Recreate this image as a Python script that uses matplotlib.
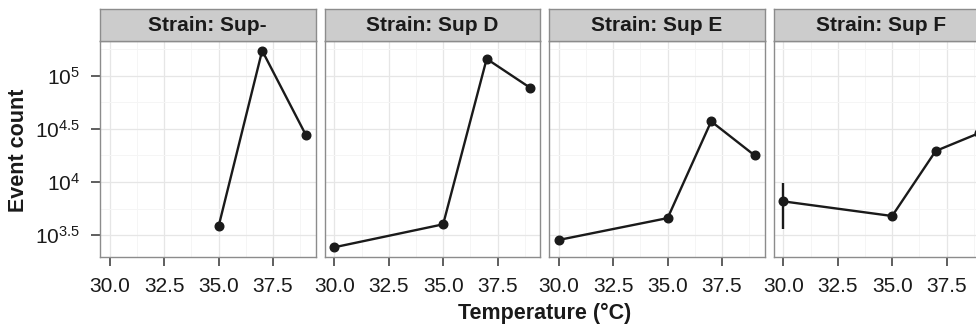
import matplotlib
matplotlib.use("Agg")
import matplotlib.pyplot as plt
import numpy as np
from matplotlib.ticker import FixedLocator, FuncFormatter

plt.rcParams["font.family"] = ["Liberation Sans", "DejaVu Sans"]
plt.rcParams["mathtext.fontset"] = "custom"
plt.rcParams["mathtext.rm"] = "Liberation Sans"
plt.rcParams["mathtext.default"] = "regular"

# data (event counts per temperature)
strains = ["Sup-", "Sup D", "Sup E", "Sup F"]
temps = {
    "Sup-": [35, 37, 39],
    "Sup D": [30, 35, 37, 39],
    "Sup E": [30, 35, 37, 39],
    "Sup F": [30, 35, 37, 39],
}
counts = {
    "Sup-": [3850, 172000, 27900],
    "Sup D": [2440, 4010, 144000, 76900],
    "Sup E": [2860, 4590, 37200, 17800],
    "Sup F": [6590, 4800, 19600, 28900],
}
# only visible error bar: Sup F at 30 C
err_temp = [30]
err_low = [3650]
err_high = [9730]

x_ticks = [30.0, 32.5, 35.0, 37.5]
y_exps = [3.5, 4.0, 4.5, 5.0]

W, H = 976, 327
fig = plt.figure(figsize=(W / 100, H / 100), dpi=100)

lefts = [100, 324.5, 549, 773.5]
pw = 215.5
top, bottom = 41, 257
strip_top = 9


def ylab(v, pos):
    e = np.log10(v)
    s = f"{e:g}"
    return f"$10^{{{s}}}$"


for i, (name, lx) in enumerate(zip(strains, lefts)):
    ax = fig.add_axes([lx / W, 1 - bottom / H, pw / W, (bottom - top) / H])
    ax.set_facecolor("white")
    ax.set_yscale("log")
    ax.set_xlim(29.55, 39.45)
    ax.set_ylim(10 ** 3.296, 10 ** 5.326)

    ax.xaxis.set_major_locator(FixedLocator(x_ticks))
    ax.xaxis.set_minor_locator(FixedLocator([31.25, 33.75, 36.25, 38.75]))
    ax.yaxis.set_major_locator(FixedLocator([10 ** e for e in y_exps]))
    ax.yaxis.set_minor_locator(FixedLocator([10 ** e for e in [3.25, 3.75, 4.25, 4.75, 5.25]]))
    ax.xaxis.set_major_formatter(FuncFormatter(lambda v, p: f"{v:.1f}"))
    ax.yaxis.set_major_formatter(FuncFormatter(ylab))

    ax.grid(which="major", color="#E6E6E6", lw=0.9)
    ax.grid(which="minor", color="#F5F5F5", lw=0.7)
    ax.set_axisbelow(True)

    ax.tick_params(which="major", direction="out", length=6.5, width=1.1,
                   color="#333333", labelsize=15, labelcolor="#1a1a1a")
    ax.tick_params(axis="x", pad=8)
    ax.tick_params(axis="y", pad=8)
    ax.tick_params(which="minor", length=0)
    if i > 0:
        ax.tick_params(axis="y", labelleft=False, length=0)
    for sp in ax.spines.values():
        sp.set_color("#8C8C8C")
        sp.set_linewidth(1.0)

    ax.plot(temps[name], counts[name], color="#1a1a1a", lw=1.7,
            marker="o", ms=6.2, clip_on=False, zorder=3)
    if name == "Sup F":
        for t, lo, hi in zip(err_temp, err_low, err_high):
            ax.vlines(t, lo, hi, color="#1a1a1a", lw=1.7, zorder=3)

    sax = fig.add_axes([lx / W, 1 - top / H, pw / W, (top - strip_top) / H])
    sax.set_facecolor("#CCCCCC")
    sax.set_xticks([])
    sax.set_yticks([])
    for sp in sax.spines.values():
        sp.set_color("#8C8C8C")
        sp.set_linewidth(1.0)
    sax.text(0.5, 0.48, f"Strain: {name}", ha="center", va="center",
             fontsize=15, fontweight="bold", color="#1a1a1a",
             transform=sax.transAxes)

fig.text(545 / W, 1 - 313 / H, "Temperature (\u00b0C)", ha="center", va="center",
         fontsize=15.5, fontweight="bold", color="#1a1a1a")
fig.text(19 / W, 1 - 150 / H, "Event count", ha="center", va="center",
         rotation=90, fontsize=15.5, fontweight="bold", color="#1a1a1a")

fig.savefig("out.png", dpi=100)
